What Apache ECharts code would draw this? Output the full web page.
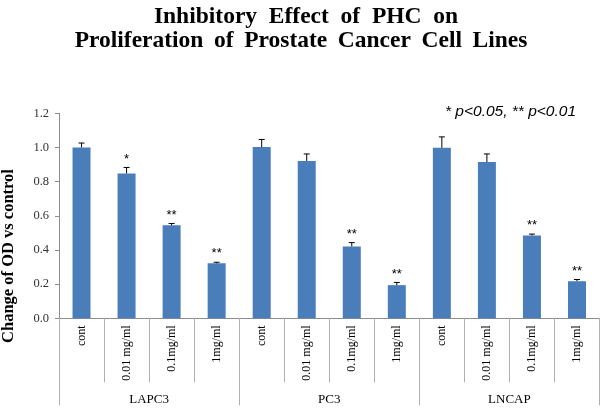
<!DOCTYPE html>
<html>
<head>
<meta charset="utf-8">
<script src="https://cdn.jsdelivr.net/npm/echarts@6/dist/echarts.min.js"></script>
<style>html,body{margin:0;padding:0;background:#fff}#c{width:602px;height:410px}</style>
</head>
<body>
<div id="c"></div>
<script>
var titleLines = ['Inhibitory  Effect  of  PHC  on', 'Proliferation \u2009of \u2009Prostate \u2009Cancer \u2009Cell \u2009Lines'];
var categories = ['cont','0.01 mg/ml','0.1mg/ml','1mg/ml','cont','0.01 mg/ml','0.1mg/ml','1mg/ml','cont','0.01 mg/ml','0.1mg/ml','1mg/ml'];
var groups = ['LAPC3','PC3','LNCAP'];
var means = [1.0, 0.848, 0.544, 0.322, 1.002, 0.921, 0.421, 0.194, 0.998, 0.915, 0.485, 0.217];
var errors = [0.026, 0.035, 0.011, 0.006, 0.045, 0.041, 0.022, 0.016, 0.064, 0.047, 0.008, 0.010];
var stars = ['', '*', '**', '**', '', '', '**', '**', '', '', '**', '**'];
var yTicks = [0, 0.2, 0.4, 0.6, 0.8, 1.0, 1.2];

var serif = '"Liberation Serif","Times New Roman",serif';
var sans = '"Liberation Sans",Arial,sans-serif';
var chart = echarts.init(document.getElementById('c'));
var errData = means.map(function (m, i) { return [i, m, m + errors[i]]; });

chart.setOption({
  animation: false,
  graphic: [
    { type: 'text', x: 306, y: 17,
      style: { text: titleLines[0], font: 'bold 23.5px ' + serif, fill: '#000', textAlign: 'center', textVerticalAlign: 'middle' } },
    { type: 'text', x: 301, y: 41,
      style: { text: titleLines[1], font: 'bold 23.5px ' + serif, fill: '#000', textAlign: 'center', textVerticalAlign: 'middle' } },
    { type: 'text', x: 9, y: 256, rotation: Math.PI / 2,
      style: { text: 'Change of OD vs control', font: 'bold 16.5px ' + serif, fill: '#000', textAlign: 'center', textVerticalAlign: 'middle' } },
    { type: 'text', x: 445, y: 112,
      style: { text: '* p<0.05, ** p<0.01', font: 'italic 15.5px ' + sans, fill: '#000', textAlign: 'left', textVerticalAlign: 'middle' } }
  ],
  grid: { left: 59, right: 2.5, top: 113.3, bottom: 91.7 },
  xAxis: [
    { type: 'category', data: categories, position: 'bottom',
      axisLine: { lineStyle: { color: '#8c8c8c', width: 1 } },
      axisTick: { show: true, length: 64, interval: 0, lineStyle: { color: '#b0b0b0' } },
      axisLabel: { interval: 0, rotate: 90, margin: 7, fontFamily: serif, fontSize: 12, color: '#000' } },
    { type: 'category', data: groups, position: 'bottom',
      axisLine: { show: false },
      axisTick: { show: true, length: 87, interval: 0, lineStyle: { color: '#b0b0b0' } },
      axisLabel: { interval: 0, margin: 75, fontFamily: serif, fontSize: 13, color: '#000' } }
  ],
  yAxis: {
    type: 'value', min: 0, max: 1.2, interval: 0.2,
    splitLine: { show: false },
    axisLine: { show: true, lineStyle: { color: '#8c8c8c' } },
    axisTick: { show: true, length: 4, lineStyle: { color: '#8c8c8c' } },
    axisLabel: { margin: 10, fontFamily: serif, fontSize: 12.5, color: '#333',
      formatter: function (v) { return v.toFixed(1); } }
  },
  series: [
    { type: 'bar', data: means, barWidth: 18, itemStyle: { color: '#4a7ebb' }, xAxisIndex: 0 },
    { type: 'custom', xAxisIndex: 0, data: errData, z: 5,
      renderItem: function (params, api) {
        var b = api.coord([api.value(0), api.value(1)]);
        var t = api.coord([api.value(0), api.value(2)]);
        var s = stars[params.dataIndex];
        var children = [
          { type: 'line', shape: { x1: b[0], y1: b[1], x2: t[0], y2: t[1] }, style: { stroke: '#000', lineWidth: 1 } },
          { type: 'line', shape: { x1: t[0] - 3, y1: t[1], x2: t[0] + 3, y2: t[1] }, style: { stroke: '#000', lineWidth: 1 } }
        ];
        if (s) {
          children.push({ type: 'text', x: t[0], y: t[1] - 2,
            style: { text: s, font: '13px ' + sans, fill: '#000', textAlign: 'center', textVerticalAlign: 'bottom' } });
        }
        return { type: 'group', children: children };
      }
    }
  ]
});
</script>
</body>
</html>
